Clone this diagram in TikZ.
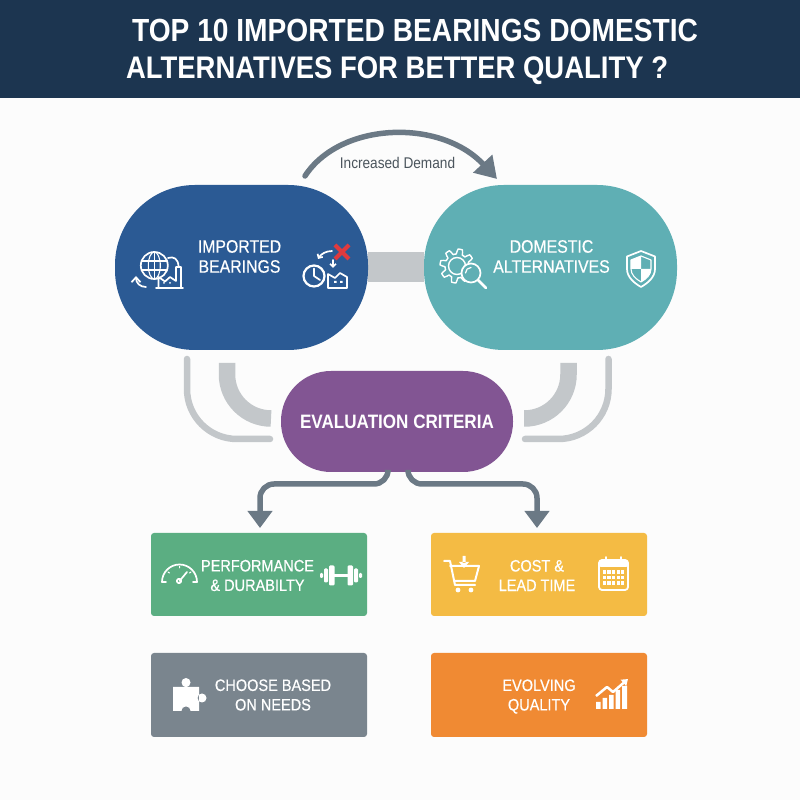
\documentclass[tikz,border=0pt]{standalone}
\usepackage{fontspec}
\setmainfont{Liberation Sans}[FakeStretch=0.88]
\newfontfamily\labelfont{Liberation Sans}[FakeStretch=0.88,FakeBold=0.5]
\usetikzlibrary{positioning,arrows.meta,calc}
\pgfdeclarelayer{background}
\pgfsetlayers{background,main}
\definecolor{headerblue}{HTML}{1C3550}
\definecolor{importblue}{HTML}{2B5A94}
\definecolor{domesticteal}{HTML}{5FAFB4}
\definecolor{criteriapurple}{HTML}{825593}
\definecolor{perfgreen}{HTML}{5BAE82}
\definecolor{costgold}{HTML}{F4BB44}
\definecolor{needsgray}{HTML}{7A858E}
\definecolor{qualityorange}{HTML}{F08A33}
\definecolor{linkgray}{HTML}{C3C7CA}
\definecolor{flowslate}{HTML}{6B7985}
\definecolor{crossred}{HTML}{E03A3E}
\tikzset{
	pill/.style={rounded corners=80pt, minimum width=253pt, minimum height=165pt, inner sep=0pt, outer sep=0pt},
	box/.style={rounded corners=3pt, minimum width=216pt, minimum height=83pt, inner sep=0pt, outer sep=0pt},
	nodetext/.style={text=white, align=center, font=\labelfont\fontsize{18}{20}\selectfont, inner sep=0pt},
	boxtext/.style={nodetext, font=\labelfont\fontsize{16.5}{19.5}\selectfont},
	flow/.style={draw=flowslate, line width=5.5pt, rounded corners=14pt, -{Triangle[length=17pt,width=24pt]}},
	thicklink/.style={draw=linkgray, line width=16.5pt, rounded corners=44pt},
	thinlink/.style={draw=linkgray, line width=6.5pt, line cap=round, rounded corners=50pt},
	icon/.style={draw=white, line width=1.7pt, line join=round, line cap=round}
}
\begin{document}
\begin{tikzpicture}[x=1pt, y=1pt]
	\useasboundingbox (0,0) rectangle (800,800);
	\node [pill, fill=importblue] (imported) at (241.5,532.5) {};
	\node [pill, fill=domesticteal, right=56pt of imported] (domestic) {};
	\node [pill, fill=criteriapurple, minimum width=232pt, minimum height=101pt, rounded corners=50pt] (criteria) at (397,378.5) {};
	\node [box, fill=perfgreen] (perf) at (259,225.5) {};
	\node [box, fill=costgold, right=64pt of perf] (cost) {};
	\node [box, fill=needsgray, minimum height=84pt, below=37pt of perf] (needs) {};
	\node [box, fill=qualityorange, minimum height=84pt, below=37pt of cost] (quality) {};

	\node [nodetext, align=left, font=\fontsize{32}{36.5}\selectfont\bfseries] (title) at (412,748) {\hspace{6pt}TOP 10 IMPORTED BEARINGS DOMESTIC\\{\fontsize{31.2}{36.5}\selectfont ALTERNATIVES FOR BETTER QUALITY ?}};
	\node [nodetext, text=flowslate!70!black, font=\fontsize{15.5}{17}\selectfont] (demand) at (397.5,637) {Increased Demand};
	\node [nodetext] (importedtext) at ([xshift=-2pt,yshift=11pt]imported.center) {IMPORTED\\BEARINGS};
	\node [nodetext] (domestictext) at ([xshift=1pt,yshift=11pt]domestic.center) {DOMESTIC\\ALTERNATIVES};
	\node [nodetext, font=\fontsize{19.4}{22}\selectfont\bfseries] (criteriatext) at (criteria) {EVALUATION CRITERIA};
	\node [boxtext] (perftext) at ([xshift=-1.5pt,yshift=-1pt]perf.center) {PERFORMANCE\\\& DURABILTY};
	\node [boxtext] (costtext) at ([xshift=-2pt,yshift=-1pt]cost.center) {COST \&\\LEAD TIME};
	\node [boxtext] (needstext) at ([xshift=14pt]needs.center) {CHOOSE BASED\\ON NEEDS};
	\node [boxtext] (qualitytext) at ([yshift=-1.5pt]quality.center) {EVOLVING\\QUALITY};

	% links behind the pills
	\begin{pgfonlayer}{background}
		\fill [white!99!black] (0,0) rectangle (800,702);
		\fill [headerblue] (0,702) rectangle (800,800);
		\draw [linkgray, line width=30pt] (imported) -- (domestic);
	\end{pgfonlayer}

	\coordinate (demandstart) at (305,624);
	\coordinate (demandend) at (497,621);
	\draw [draw=flowslate, line width=5.5pt, line cap=round, -{Triangle[length=21pt,width=25pt]}] (demandstart) .. controls (340,678) and (440,682) .. (demandend);

	\draw [thicklink] ([xshift=-14.5pt,yshift=-13pt]imported.south) |- ([xshift=-10pt,yshift=3pt]criteria.west);
	\draw [thinlink] ([xshift=-54.5pt,yshift=-9pt]imported.south) |- ([xshift=-11pt,yshift=-17.5pt]criteria.west);
	\draw [thicklink] ([xshift=18pt,yshift=-13pt]domestic.south) |- ([xshift=11pt,yshift=3pt]criteria.east);
	\draw [thinlink] ([xshift=58pt,yshift=-9pt]domestic.south) |- ([xshift=12pt,yshift=-17.5pt]criteria.east);

	\draw [flow] ([xshift=-9pt]criteria.south) -- ++(0,-12) -| ([xshift=1pt,yshift=5pt]perf.north);
	\draw [flow] ([xshift=11pt]criteria.south) -- ++(0,-12) -| ([xshift=-2pt,yshift=5pt]cost.north);

	% icons, in pixels of the page
	\begin{scope}[shift={(0,800)}, yscale=-1]
		% globe and factory
		\draw [icon] (154.3,265.5) circle (13.5);
		\draw [icon, line width=1.1pt] (154.3,265.5) ellipse (6 and 13.5);
		\draw [icon, line width=1.1pt] (154.3,252) -- (154.3,279);
		\draw [icon, line width=1.1pt] (141.3,261) -- (167.3,261) (141.3,270) -- (167.3,270);
		\draw [icon, fill=importblue] (158.5,288) -- (158.5,277) -- (165,281.5) -- (170,277) -- (176,281) -- (176,267) -- (181,267) -- (181,288) -- cycle;
		\draw [icon] (156,288) -- (183,288);
		\draw [icon] (168,258) .. controls (174,256) and (178,259) .. (178.5,266);
		\draw [icon, -{Straight Barb[length=5pt,width=9pt]}] (146,287) .. controls (140,287) and (136,283) .. (136,276);
		\fill [white] (164,283) circle (1) (170,283) circle (1);
		% clock and factory with cross
		\draw [icon, line width=2.2pt] (314,276) circle (10.5);
		\draw [icon] (314,268.5) -- (314,276) -- (320,280);
		\draw [icon] (328,288) -- (328,274) -- (335,278) -- (340,273) -- (347,277) -- (347,288) -- cycle;
		\fill [white] (334,281) rectangle (336.5,283) (340,281) rectangle (342.5,283);
		\draw [icon, -{Straight Barb[length=3pt,width=6pt]}] (332,251) .. controls (326,251) and (321,254) .. (318,259);
		\draw [icon, -{Straight Barb[length=3pt,width=6pt]}] (333,260) -- (333,268);
		\draw [crossred, line width=4pt] (335,245) -- (349,259) (349,245) -- (335,259);
		% gear and magnifier
		\draw [icon, line width=1.4pt] plot [domain=0:360, samples=97, variable=\t] ({457+(14.5+2.5*max(-1,min(1,3*sin(8*\t))))*cos(\t)}, {266+(14.5+2.5*max(-1,min(1,3*sin(8*\t))))*sin(\t)}) -- cycle;
		\draw [icon, line width=1.4pt] (457,266) circle (8.5);
		\draw [icon, fill=domesticteal] (471,273) circle (9.5);
		\draw [icon, line width=1.2pt] (465.5,273) arc [start angle=180, end angle=270, radius=5.5];
		\draw [icon, line width=2.5pt] (478,280) -- (486,288);
		% shield
		\draw [icon] (641,251) -- (655,256.5) -- (655,269) .. controls (655,277) and (648,283) .. (641,287) .. controls (634,283) and (627,277) .. (627,269) -- (627,256.5) -- cycle;
		\fill [white] (641,256) -- (641,269) -- (631,269) -- (631,260) -- cycle;
		\fill [white] (641,269) -- (651,269) .. controls (651,275) and (646,279) .. (641,282) -- cycle;
		\draw [icon, line width=1.1pt] (641,256) -- (651,260) -- (651,269) .. controls (651,275) and (646,279) .. (641,282) .. controls (636,279) and (631,275) .. (631,269) -- (631,260) -- cycle;
		% gauge
		\draw [icon] (162,582) arc [start angle=180, end angle=360, radius=17.5];
		\draw [icon] (162,582) -- (166,582) (193,582) -- (197,582);
		\draw [icon] (179.5,581) -- (187,572);
		\draw [icon] (179,581) circle (2.2);
		\draw [icon, line width=1pt] (168,572) -- (169.5,573) (179.5,568) -- (179.5,566.5) (191,572) -- (189.5,573);
		% dumbbell
		\draw [white, line width=3pt] (330,575.5) -- (352,575.5);
		\fill [white, rounded corners=1.2pt] (320,573) rectangle (323,578) (324,568.5) rectangle (328,582.5) (329,565.5) rectangle (334.5,585.5) (347.5,565.5) rectangle (353,585.5) (354,568.5) rectangle (358,582.5) (359,573) rectangle (362,578);
		% puzzle piece
		\fill [white] (173,687) rectangle (199,711) (186,682.5) circle (4.5) (202,698) circle (4.5);
		\fill [needsgray] (186,711) circle (4.5);
		% cart
		\draw [icon, line width=2pt] (444,561) -- (450,561) -- (455,585) -- (475,585);
		\draw [icon, line width=2pt] (450,566) -- (479,566) -- (475,581) -- (454,581);
		\fill [white] (458,590) circle (2.4) (471,590) circle (2.4);
		\fill [white] (462.5,556) rectangle (465.5,563) (459,562) -- (469,562) -- (464,568) -- cycle;
		% calendar
		\draw [icon, rounded corners=3pt, line width=1.8pt] (599,560) rectangle (628,590);
		\fill [white, rounded corners=2pt] (599,560) rectangle (628,567);
		\draw [icon, line width=1.8pt] (606,557) -- (606,561) (621,557) -- (621,561);
		\foreach \i in {0,1,2,3,4}
			\foreach \j in {0,1,2}
				\fill [white] ({602.8+\i*4.6},{570.5+\j*5.5}) rectangle ++(3.2,3.5);
		% rising chart
		\fill [white] (596,702) rectangle (600.5,709) (602.5,698) rectangle (607,709) (609,695) rectangle (613.5,709) (615.5,690) rectangle (620,709) (622,686) rectangle (627,709);
		\draw [white, line width=2.5pt, line join=round, -{Triangle[length=6pt,width=8pt]}] (596,696) -- (607,687) -- (613,692) -- (628,679);
	\end{scope}
\end{tikzpicture}
\end{document}
